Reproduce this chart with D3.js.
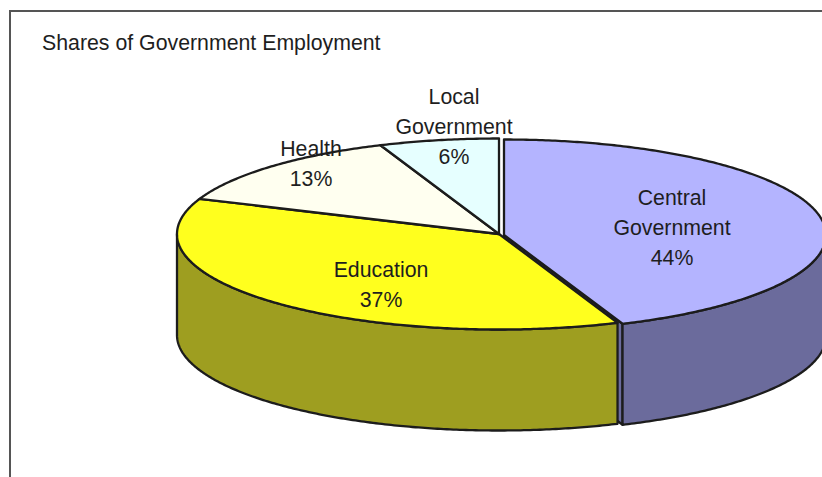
<!DOCTYPE html>
<html>
<head>
<meta charset="utf-8">
<script src="https://cdn.jsdelivr.net/npm/d3@7"></script>
<style>
  html, body { margin: 0; padding: 0; background: #ffffff; }
  svg { display: block; }
  text { font-family: "Liberation Sans", Arial, Helvetica, sans-serif; fill: #1e1e1e; }
</style>
</head>
<body>
<svg id="chart" width="822" height="477"></svg>
<script>
// ---- data ----
const title = "Shares of Government Employment";
const categories = ["Central Government", "Education", "Health", "Local Government"];
const shares = [44, 37, 13, 6];
const labelLines = [["Central", "Government"], ["Education"], ["Health"], ["Local", "Government"]];
const exploded = ["Central Government"];

// ---- styling per category ----
const topColor = d3.scaleOrdinal()
  .domain(categories)
  .range(["#b4b4ff", "#ffff1e", "#fffff0", "#e6ffff"]);
const sideColor = d3.scaleOrdinal()
  .domain(categories)
  .range(["#6b6b9c", "#9e9e20", "#a0a090", "#8ca0a0"]);

// ---- layout ----
const W = 822, H = 477;
const CX = 499, CY = 234;     // centre of the top face
const RX = 322, RY = 95.5;    // ellipse radii of the top face
const DEPTH = 101;            // thickness of the pie
const EXPLODE = [5, 1];       // offset of a pulled-out slice
const LINE_H = 30;
const FONT = 21.3;
// label anchors relative to the pie centre (middle of each text block)
const labelAnchor = {
  "Central Government": [173, -6],
  "Education": [-118, 51],
  "Health": [-188, -70],
  "Local Government": [-45, -107]
};

const svg = d3.select("#chart");

// chart area frame
svg.append("rect")
  .attr("x", 10).attr("y", 11)
  .attr("width", W + 20).attr("height", H + 20)
  .attr("fill", "none")
  .attr("stroke", "#555555")
  .attr("stroke-width", 2);

svg.append("text")
  .attr("x", 42).attr("y", 50)
  .attr("font-size", FONT)
  .text(title);

const pie = d3.pie().sort(null).value(d => d.value).startAngle(0).endAngle(2 * Math.PI);
const slices = pie(categories.map((c, i) => ({ name: c, value: shares[i], lines: labelLines[i] })));

slices.forEach(s => {
  const off = exploded.includes(s.data.name) ? EXPLODE : [0, 0];
  s.cx = CX + off[0];
  s.cy = CY + off[1];
});

// point on the rim; angle measured clockwise from 12 o'clock
function rim(a, cx, cy) {
  return [cx + RX * Math.sin(a), cy - RY * Math.cos(a)];
}
function arcPoints(a0, a1, cx, cy) {
  const n = Math.max(2, Math.ceil(Math.abs(a1 - a0) / 0.01));
  return d3.range(n + 1).map(i => rim(a0 + (a1 - a0) * i / n, cx, cy));
}
const line = d3.line().curve(d3.curveLinear);
const closed = pts => line(pts) + "Z";

const strokeCol = "#1c1c1c", strokeW = 2.3;
const g = svg.append("g").attr("stroke", strokeCol).attr("stroke-width", strokeW).attr("stroke-linejoin", "round");

// radial cut faces of pulled-out slices that face the viewer
slices.filter(s => exploded.includes(s.data.name)).forEach(s => {
  [[s.startAngle, -1], [s.endAngle, 1]].forEach(([a, sign]) => {
    if (sign * Math.sin(a) > 0.01) {
      const p = rim(a, s.cx, s.cy);
      g.append("path")
        .attr("d", closed([[s.cx, s.cy], p, [p[0], p[1] + DEPTH], [s.cx, s.cy + DEPTH]]))
        .attr("fill", sideColor(s.data.name));
    }
  });
});

// outer walls on the front half of the ellipse
slices.forEach(s => {
  const a0 = Math.max(s.startAngle, Math.PI / 2);
  const a1 = Math.min(s.endAngle, 3 * Math.PI / 2);
  if (a1 <= a0) return;
  const top = arcPoints(a0, a1, s.cx, s.cy);
  const bottom = arcPoints(a1, a0, s.cx, s.cy + DEPTH);
  g.append("path")
    .attr("d", closed(top.concat(bottom)))
    .attr("fill", sideColor(s.data.name));
});

// top faces, pulled-out slices last
const order = slices.slice().sort((a, b) =>
  (exploded.includes(a.data.name) ? 1 : 0) - (exploded.includes(b.data.name) ? 1 : 0));
order.forEach(s => {
  const pts = [[s.cx, s.cy]].concat(arcPoints(s.startAngle, s.endAngle, s.cx, s.cy));
  g.append("path")
    .attr("d", closed(pts))
    .attr("fill", topColor(s.data.name));
});

// labels: name lines followed by the share
const pct = d3.format(".0%");
slices.forEach(s => {
  const lines = s.data.lines.concat([pct(s.data.value / 100)]);
  const a = labelAnchor[s.data.name];
  const x = CX + a[0], yMid = CY + a[1];
  const y0 = yMid - (lines.length - 1) * LINE_H / 2 + 7;
  const t = svg.append("text")
    .attr("text-anchor", "middle")
    .attr("font-size", FONT);
  lines.forEach((l, i) => {
    t.append("tspan").attr("x", x).attr("y", y0 + i * LINE_H).text(l);
  });
});
</script>
</body>
</html>
